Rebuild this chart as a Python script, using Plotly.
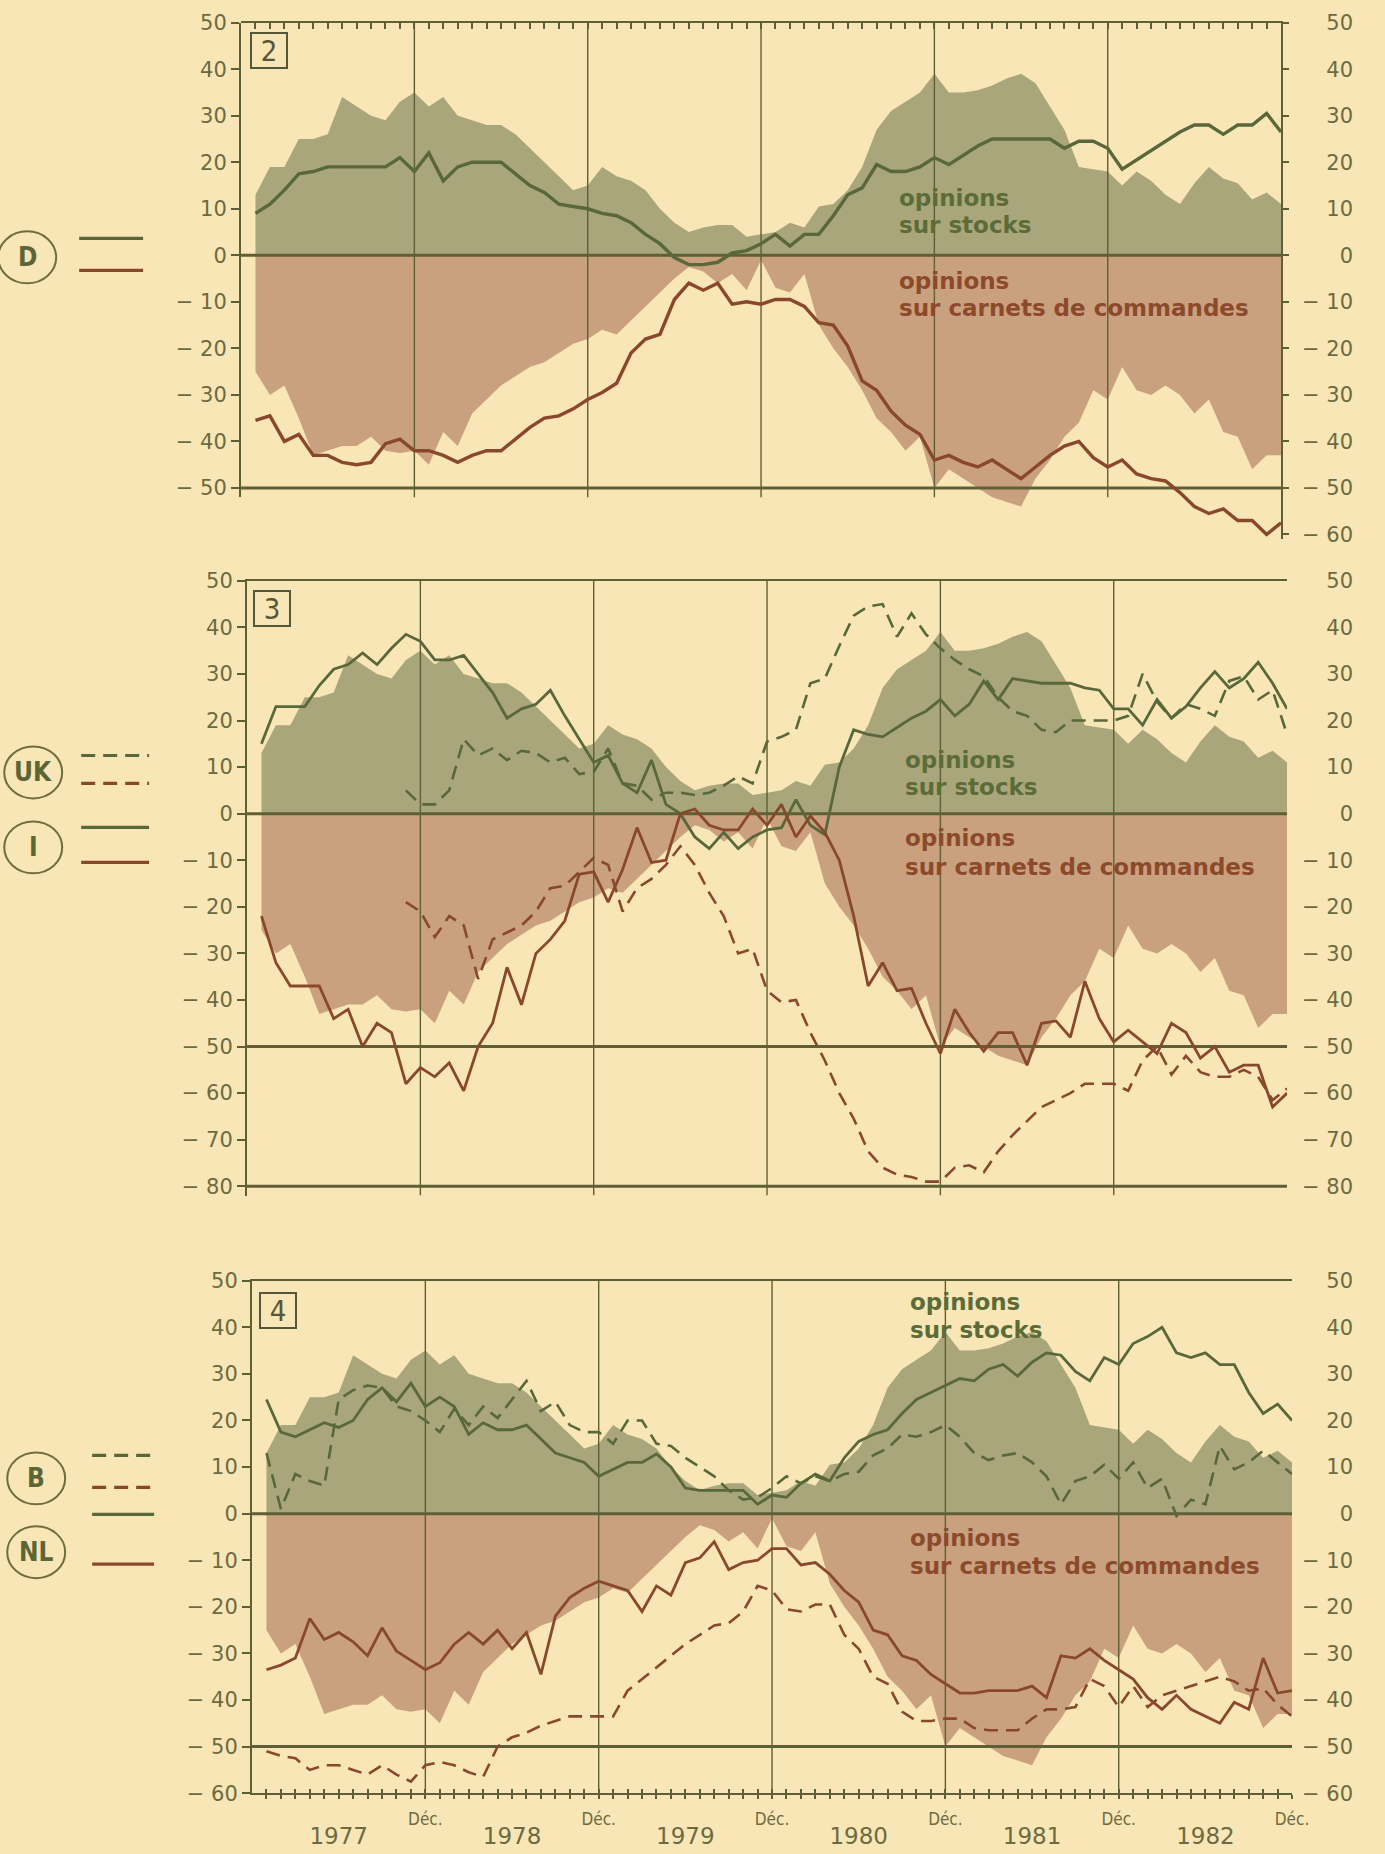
import plotly.graph_objects as go

W, H = 1385, 1854
# small stretch measured against the reference scan
STRETCH, OX, OY = 0.0115, 330, 907

# month index: 0 = Dec 1976, 1 = Jan 1977 ... 72 = Dec 1982
MONTHS = list(range(1, 73))
DEC_TICKS = [12, 24, 36, 48, 60, 72]
YEAR_TICKS = [6, 18, 30, 42, 54, 66]
YEAR_LABELS = ["1977", "1978", "1979", "1980", "1981", "1982"]

# community aggregate (shaded areas, same in the three panels)
AGG_STOCKS = [13, 19, 19, 25, 25, 26, 34, 32, 30, 29,
              33, 35, 32, 34, 30, 29, 28, 28, 26, 23,
              20, 17, 14, 15, 19, 17, 16, 14, 10, 7,
              5, 6, 6.5, 6.5, 4, 4.5, 5, 7, 6, 10.5,
              11, 14, 19, 27, 31, 33, 35, 39, 35, 35,
              35.5, 36.5, 38, 39, 37, 32, 27, 19, 18.5, 18,
              15, 18, 16, 13, 11, 15.5, 19, 16.5, 15.5, 12, 13.5, 11]
AGG_ORDERS = [-25, -30, -28, -35, -43, -42, -41, -41, -39, -42,
              -42.5, -42, -45, -38, -41, -34, -31, -28, -26, -24,
              -23, -21, -19, -18, -16, -17, -14, -11, -8, -5,
              -2.5, -3.5, -6, -4, -7.5, -1, -7, -8, -4, -15,
              -20, -24, -29, -35, -38, -42, -39, -50, -46, -48,
              -50, -52, -53, -54, -48, -44, -39, -36, -29, -31,
              -24, -29, -30, -28, -30, -34, -31, -38, -39, -46, -43, -43]

# panel 2: D
D_STOCKS = [9, 11, 14, 17.5, 18, 19, 19, 19, 19, 19,
            21, 18, 22, 16, 19, 20, 20, 20, 17.5, 15,
            13.5, 11, 10.5, 10, 9, 8.5, 7, 4.5, 2.5, -0.5,
            -2, -2, -1.5, 0.5, 1, 2.5, 4.5, 2, 4.5, 4.5,
            8.5, 13, 14.5, 19.5, 18, 18, 19, 21, 19.5, 21.5,
            23.5, 25, 25, 25, 25, 25, 23, 24.5, 24.5, 23,
            18.5, 20.5, 22.5, 24.5, 26.5, 28, 28, 26, 28, 28, 30.5, 26.5]
D_ORDERS = [-35.5, -34.5, -40, -38.5, -43, -43, -44.5, -45, -44.5, -40.5,
            -39.5, -42, -42, -43, -44.5, -43, -42, -42, -39.5, -37,
            -35, -34.5, -33, -31, -29.5, -27.5, -21, -18, -17, -9.5,
            -6, -7.5, -6, -10.5, -10, -10.5, -9.5, -9.5, -11, -14.5,
            -15, -19.5, -27, -29, -33.5, -36.5, -38.5, -44, -43, -44.5,
            -45.5, -44, -46, -48, -45.5, -43, -41, -40, -43.5, -45.5,
            -44, -47, -48, -48.5, -51, -54, -55.5, -54.5, -57, -57, -60, -57.5]

# panel 3: UK (from Nov 1977) and I
UK_STOCKS = [None] * 10 + [
    5, 2, 2, 5, 16, 12.5, 14, 11.5, 13.5, 13,
    11, 12, 8.5, 9, 14, 6.5, 6, 3, 4.5, 4.5,
    4, 4.5, 6, 8, 6.5, 15.5, 16.5, 18, 28, 29,
    36, 42.5, 44.5, 45, 38, 43, 38.5, 35.5, 33, 31,
    29.5, 25, 22, 21, 18, 17.5, 20, 20, 20, 20,
    21, 30, 24, 20.5, 23.5, 22.5, 21, 28.5, 29.5, 24.5, 26.5, 17]
UK_ORDERS = [None] * 10 + [
    -19, -21, -26.5, -22, -24, -35.5, -27, -25.5, -24, -21,
    -16, -15.5, -12.5, -9.5, -11, -21, -16, -14, -11, -7,
    -11, -17, -22, -30, -29, -38, -40.5, -40, -47, -53,
    -60, -65.5, -72.5, -76, -77.5, -78, -79, -79, -76, -75.5,
    -77, -72.5, -69, -66, -63, -61.5, -60, -58, -58, -58,
    -59.5, -53, -50, -56, -52, -55.5, -56.5, -56.5, -55, -56.5, -61.5, -59]
I_STOCKS = [15, 23, 23, 23, 27.5, 31, 32, 34.5, 32, 35.5,
            38.5, 37, 33, 33, 34, 30, 26, 20.5, 22.5, 23.5,
            26.5, 21, 16, 11, 12.5, 6.5, 4.5, 11.5, 2, 0,
            -5, -7.5, -4, -7.5, -5, -3.5, -3, 3, -2.5, -4.5,
            10, 18, 17, 16.5, 18.5, 20.5, 22, 24.5, 21, 23.5,
            28.5, 24.5, 29, 28.5, 28, 28, 28, 27, 26.5, 22.5,
            22.5, 19, 24.5, 20.5, 23, 27, 30.5, 27, 29, 32.5, 28, 22.5]
I_ORDERS = [-22, -32, -37, -37, -37, -44, -42, -50, -45, -47,
            -58, -54.5, -56.5, -53.5, -59.5, -50, -45, -33, -41, -30,
            -27, -23, -13, -12.5, -19, -12, -3, -10.5, -10, 0,
            1, -2.5, -3.5, -3.5, 1, -2.5, 2, -5, -0.5, -4,
            -10, -22, -37, -32, -38, -37.5, -45, -51.5, -42, -47,
            -51, -47, -47, -54, -45, -44.5, -48, -36, -44, -49,
            -46.5, -49, -51.5, -45, -47, -52.5, -50, -55.5, -54, -54, -63, -60]

# panel 4: B and NL
B_STOCKS = [13, 1, 8.5, 7, 6, 24.5, 26.5, 27.5, 27, 23,
            22, 20, 17.5, 22.5, 19, 23, 20.5, 24.5, 28.5, 22,
            24, 19, 17.5, 17.5, 15, 20, 20, 15, 14.5, 12,
            10, 8, 5, 3, 3.5, 5.5, 8, 6.5, 8, 7,
            8.5, 9, 12.5, 14, 17, 16.5, 17.5, 19, 16.5, 13,
            11.5, 12.5, 13, 11, 8, 2, 7, 8, 10.5, 7.5,
            11, 5.5, 7.5, -0.5, 3, 2, 14.5, 9.5, 11, 13.5, 11, 8.5]
B_ORDERS = [-51, -52, -52.5, -55, -54, -54, -55, -56, -54, -56,
            -57.5, -54, -53.3, -54, -55.5, -56.5, -50, -48, -47, -45.5,
            -44.5, -43.5, -43.5, -43.5, -43.5, -38, -35.5, -33, -30.5, -28,
            -26, -24, -23.5, -21, -15.5, -16.5, -20.5, -21, -19.5, -19.5,
            -26, -29, -35, -36.5, -42.5, -44.5, -44.5, -44, -44, -46,
            -46.5, -46.5, -46.5, -44, -42, -42, -41.5, -35.5, -37, -41.5,
            -37, -41.5, -39, -38, -37, -36, -35, -36, -38, -37.5, -41, -43.5]
NL_STOCKS = [24.5, 17.5, 16.5, 18, 19.5, 18.5, 20, 24.5, 27, 24,
             28, 23, 25, 23, 17, 19.5, 18, 18, 19, 16,
             13, 12, 11, 8, 9.5, 11, 11, 12.8, 10, 5.5,
             5, 5, 5, 5, 2, 4, 3.5, 6.5, 8.5, 7,
             12, 15.5, 17, 18, 21.5, 24.5, 26, 27.5, 29, 28.5,
             31, 32, 29.5, 32.5, 34.5, 34, 30.5, 28.5, 33.5, 32,
             36.5, 38, 40, 34.5, 33.5, 34.5, 32, 32, 26, 21.5, 23.5, 20]
NL_ORDERS = [-33.5, -32.5, -31, -22.5, -27, -25.5, -27.5, -30.5, -24.5, -29.5,
             -31.5, -33.5, -32, -28, -25.5, -28, -25, -29, -25.5, -34.5,
             -22, -18, -16, -14.5, -15.5, -16.5, -21, -15.5, -17.5, -10.5,
             -9.5, -6, -12, -10.5, -10, -7.5, -7.5, -11, -10.5, -13,
             -16.5, -19, -25, -26, -30.5, -31.5, -34.5, -36.5, -38.5, -38.5,
             -38, -38, -38, -37, -39.5, -30.5, -31, -29, -31.5, -33.5,
             -35.5, -39.5, -42, -39, -42, -43.5, -45, -40.5, -42, -31, -38.5, -38]

BG = "#f9e6b6"
GREEN_FILL = "#a9a67b"
BROWN_FILL = "#c9a17f"
GREEN = "#58683a"
BROWN = "#8a482b"
AXIS = "#5e5f34"
TEXT = "#6c6b40"
NUM_FONT = "DejaVu Sans"
NARROW = "Liberation Sans Narrow, DejaVu Sans Condensed, Liberation Sans"
DASH = "14px,8px"


# reference pixel -> paper fraction
def px_x(x):
    return (x + STRETCH * (x - OX)) / W


def px_y(y):
    return 1 - (y + STRETCH * (y - OY)) / H


def ydom(top, scale, lo, hi=50):
    return [px_y(top + (hi - lo) * scale), px_y(top)]


def label(v):
    return str(v) if v >= 0 else "\u2212 " + str(-v)


def vgrid(lo, hi):
    xs, ys = [], []
    for d in DEC_TICKS[:-1]:
        xs += [d, d, None]
        ys += [lo, hi, None]
    return xs, ys


def hlines(levels):
    xs, ys = [], []
    for lv in levels:
        xs += [0, 72, None]
        ys += [lv, lv, None]
    return xs, ys


fig = go.Figure()


def add_panel(xa, ya, grid_lo, levels, series):
    fig.add_trace(go.Scatter(x=MONTHS, y=AGG_STOCKS, mode="lines", fill="tozeroy",
                             fillcolor=GREEN_FILL, line=dict(width=0), xaxis=xa, yaxis=ya))
    fig.add_trace(go.Scatter(x=MONTHS, y=AGG_ORDERS, mode="lines", fill="tozeroy",
                             fillcolor=BROWN_FILL, line=dict(width=0), xaxis=xa, yaxis=ya))
    gx, gy = vgrid(grid_lo, 50)
    fig.add_trace(go.Scatter(x=gx, y=gy, mode="lines", line=dict(color=AXIS, width=1.4),
                             xaxis=xa, yaxis=ya))
    hx, hy = hlines(levels)
    fig.add_trace(go.Scatter(x=hx, y=hy, mode="lines", line=dict(color=AXIS, width=3),
                             xaxis=xa, yaxis=ya))
    for vals, color, dash, width in series:
        fig.add_trace(go.Scatter(x=MONTHS, y=vals, mode="lines",
                                 line=dict(color=color, dash=dash, width=width),
                                 connectgaps=False, xaxis=xa, yaxis=ya))


add_panel("x", "y2", -52, [0, -50],
          [(D_STOCKS, GREEN, "solid", 3.4), (D_ORDERS, BROWN, "solid", 3.4)])
add_panel("x2", "y4", -82, [0, -50, -80],
          [(UK_STOCKS, GREEN, DASH, 2.6), (UK_ORDERS, BROWN, DASH, 2.6),
           (I_STOCKS, GREEN, "solid", 2.8), (I_ORDERS, BROWN, "solid", 2.8)])
add_panel("x3", "y7", -60, [0, -50],
          [(B_STOCKS, GREEN, DASH, 2.6), (B_ORDERS, BROWN, DASH, 2.6),
           (NL_STOCKS, GREEN, "solid", 2.8), (NL_ORDERS, BROWN, "solid", 2.8)])

# invisible anchors so that the label-only axes get drawn
for xa, ya in [("x", "y"), ("x", "y3"), ("x2", "y6"), ("x3", "y9"), ("x4", "y7"), ("x5", "y7")]:
    fig.add_trace(go.Scatter(x=[36], y=[0], mode="markers", marker=dict(opacity=0),
                             hoverinfo="skip", xaxis=xa, yaxis=ya))

tickfont = dict(family=NUM_FONT, size=21, color=TEXT)
base_y = dict(showgrid=False, zeroline=False, linecolor=AXIS, linewidth=2,
              tickcolor=AXIS, tickwidth=2, tickfont=tickfont)
base_x = dict(range=[0, 72], showgrid=False, zeroline=False, linecolor=AXIS,
              linewidth=2, tickcolor=AXIS, tickwidth=1.5)


def left_axis(dom, lo, anchor, ticks):
    return dict(base_y, domain=dom, range=[lo, 50], anchor=anchor, side="left",
                showline=True, ticks="outside", ticklen=8, ticklabelstandoff=0,
                tickvals=ticks, ticktext=[label(v) for v in ticks])


def right_line(lo, anchor, ticks, **kw):
    return dict(base_y, range=[lo, 50], anchor=anchor, side="right", showline=True,
                ticks="outside", ticklen=6, showticklabels=False, tickvals=ticks, **kw)


def right_labels(lo, over, ticks):
    # right-aligned labels hung on a free axis at the page's right edge
    return dict(base_y, range=[lo, 50], overlaying=over, anchor="free", position=1.0,
                side="left", showline=False, ticks="", ticklabelstandoff=15,
                tickvals=ticks, ticktext=[label(v) for v in ticks])


T1 = list(range(-50, 51, 10))
T1R = list(range(-60, 51, 10))
T2 = list(range(-80, 51, 10))
T3 = list(range(-60, 51, 10))

fig.update_layout(
    width=W, height=H, autosize=False,
    margin=dict(l=0, r=0, t=0, b=0),
    paper_bgcolor=BG, plot_bgcolor="rgba(0,0,0,0)",
    showlegend=False,
    # panel "2"
    xaxis=dict(base_x, domain=[px_x(245), px_x(1286)], anchor="y2", side="top",
               showline=True, ticks="inside", ticklen=6, tickvals=MONTHS[:-1],
               showticklabels=False),
    yaxis=left_axis(ydom(21, 4.66, -52), -52, "x", T1),
    yaxis2=right_line(-61, "x", T1R, domain=ydom(21, 4.66, -61)),
    yaxis3=right_labels(-61, "y2", T1R),
    # panel "3"
    xaxis2=dict(base_x, domain=[px_x(251), px_x(1292)], anchor="y4", side="top",
                showline=True, ticks="", showticklabels=False),
    yaxis4=left_axis(ydom(580, 4.665, -82), -82, "x2", T2),
    yaxis5=right_line(-82, "x2", T2, overlaying="y4"),
    yaxis6=right_labels(-82, "y4", T2),
    # panel "4"
    xaxis3=dict(base_x, domain=[px_x(256), px_x(1297)], anchor="y7", side="bottom",
                showline=True, mirror=True, ticks="outside", ticklen=4,
                tickvals=MONTHS,
                ticktext=["Déc." if m in DEC_TICKS else "" for m in MONTHS],
                tickfont=dict(family=NARROW, size=17, color=TEXT), ticklabelstandoff=5),
    xaxis4=dict(base_x, overlaying="x3", anchor="y7", side="bottom", showline=False,
                ticks="inside", ticklen=4, tickvals=MONTHS[:-1], showticklabels=False),
    xaxis5=dict(base_x, overlaying="x3", anchor="y7", side="bottom", showline=False,
                ticks="", tickvals=YEAR_TICKS, ticktext=YEAR_LABELS,
                tickfont=dict(family=NUM_FONT, size=23, color=TEXT), ticklabelstandoff=27),
    yaxis7=left_axis(ydom(1281, 4.667, -60), -60, "x3", T3),
    yaxis8=right_line(-60, "x3", T3, overlaying="y7"),
    yaxis9=right_labels(-60, "y7", T3),
)

# captions inside the panels
text_font_g = dict(family="DejaVu Sans", size=23, color="#5b6c38")
text_font_b = dict(family="DejaVu Sans", size=23, color="#8c4a2b")
captions = [
    ("x", "y2", [12.4, 6.6], [-5.6, -11.4]),
    ("x2", "y4", [11.6, 5.8], [-5.3, -11.4]),
    ("x3", "y7", [45.5, 39.4], [-5.2, -11.2]),
]
for xa, ya, ys_g, ys_b in captions:
    for txt, yy, f in [("opinions", ys_g[0], text_font_g), ("sur stocks", ys_g[1], text_font_g),
                       ("opinions", ys_b[0], text_font_b),
                       ("sur carnets de commandes", ys_b[1], text_font_b)]:
        fig.add_annotation(x=45.4, y=yy, xref=xa, yref=ya, text="<b>" + txt + "</b>",
                           showarrow=False, xanchor="left", yanchor="middle", font=f)

# panel numbers in boxes
for num, cx, cy in [("2", 273, 49), ("3", 276, 608), ("4", 282, 1311)]:
    fig.add_annotation(x=px_x(cx), y=px_y(cy), xref="paper", yref="paper", text=num,
                       showarrow=False, xanchor="center", yanchor="middle",
                       font=dict(family=NARROW, size=29, color="#55563a"),
                       bordercolor="#55563a", borderwidth=2, borderpad=0, width=34, height=33)

# country keys: circle + short line samples
keys = [("D", 31, 256, [(237, GREEN, "solid"), (269, BROWN, "solid")], 83, 147),
        ("UK", 37, 772, [(755, GREEN, DASH), (783, BROWN, DASH)], 85, 153),
        ("I", 37, 847, [(827, GREEN, "solid"), (862, BROWN, "solid")], 85, 153),
        ("B", 40, 1479, [(1456, GREEN, DASH), (1488, BROWN, DASH)], 96, 158),
        ("NL", 40, 1553, [(1515, GREEN, "solid"), (1565, BROWN, "solid")], 96, 158)]
for name, cx, cy, samples, x0, x1 in keys:
    fig.add_shape(type="circle", xref="paper", yref="paper",
                  x0=px_x(cx - 29), x1=px_x(cx + 29), y0=px_y(cy + 26), y1=px_y(cy - 26),
                  line=dict(color="#6f6c3e", width=2))
    fig.add_annotation(x=px_x(cx), y=px_y(cy), xref="paper", yref="paper",
                       text="<b>" + name + "</b>", showarrow=False,
                       xanchor="center", yanchor="middle",
                       font=dict(family=NARROW, size=26, color="#5c6536"))
    for yy, color, dash in samples:
        fig.add_shape(type="line", xref="paper", yref="paper",
                      x0=px_x(x0), x1=px_x(x1), y0=px_y(yy), y1=px_y(yy),
                      line=dict(color=color, width=3.2, dash=dash))

fig.write_html("out.html", config={"displayModeBar": False},
               post_script="document.body.style.margin='0';"
                           "document.body.style.background='" + BG + "';")
